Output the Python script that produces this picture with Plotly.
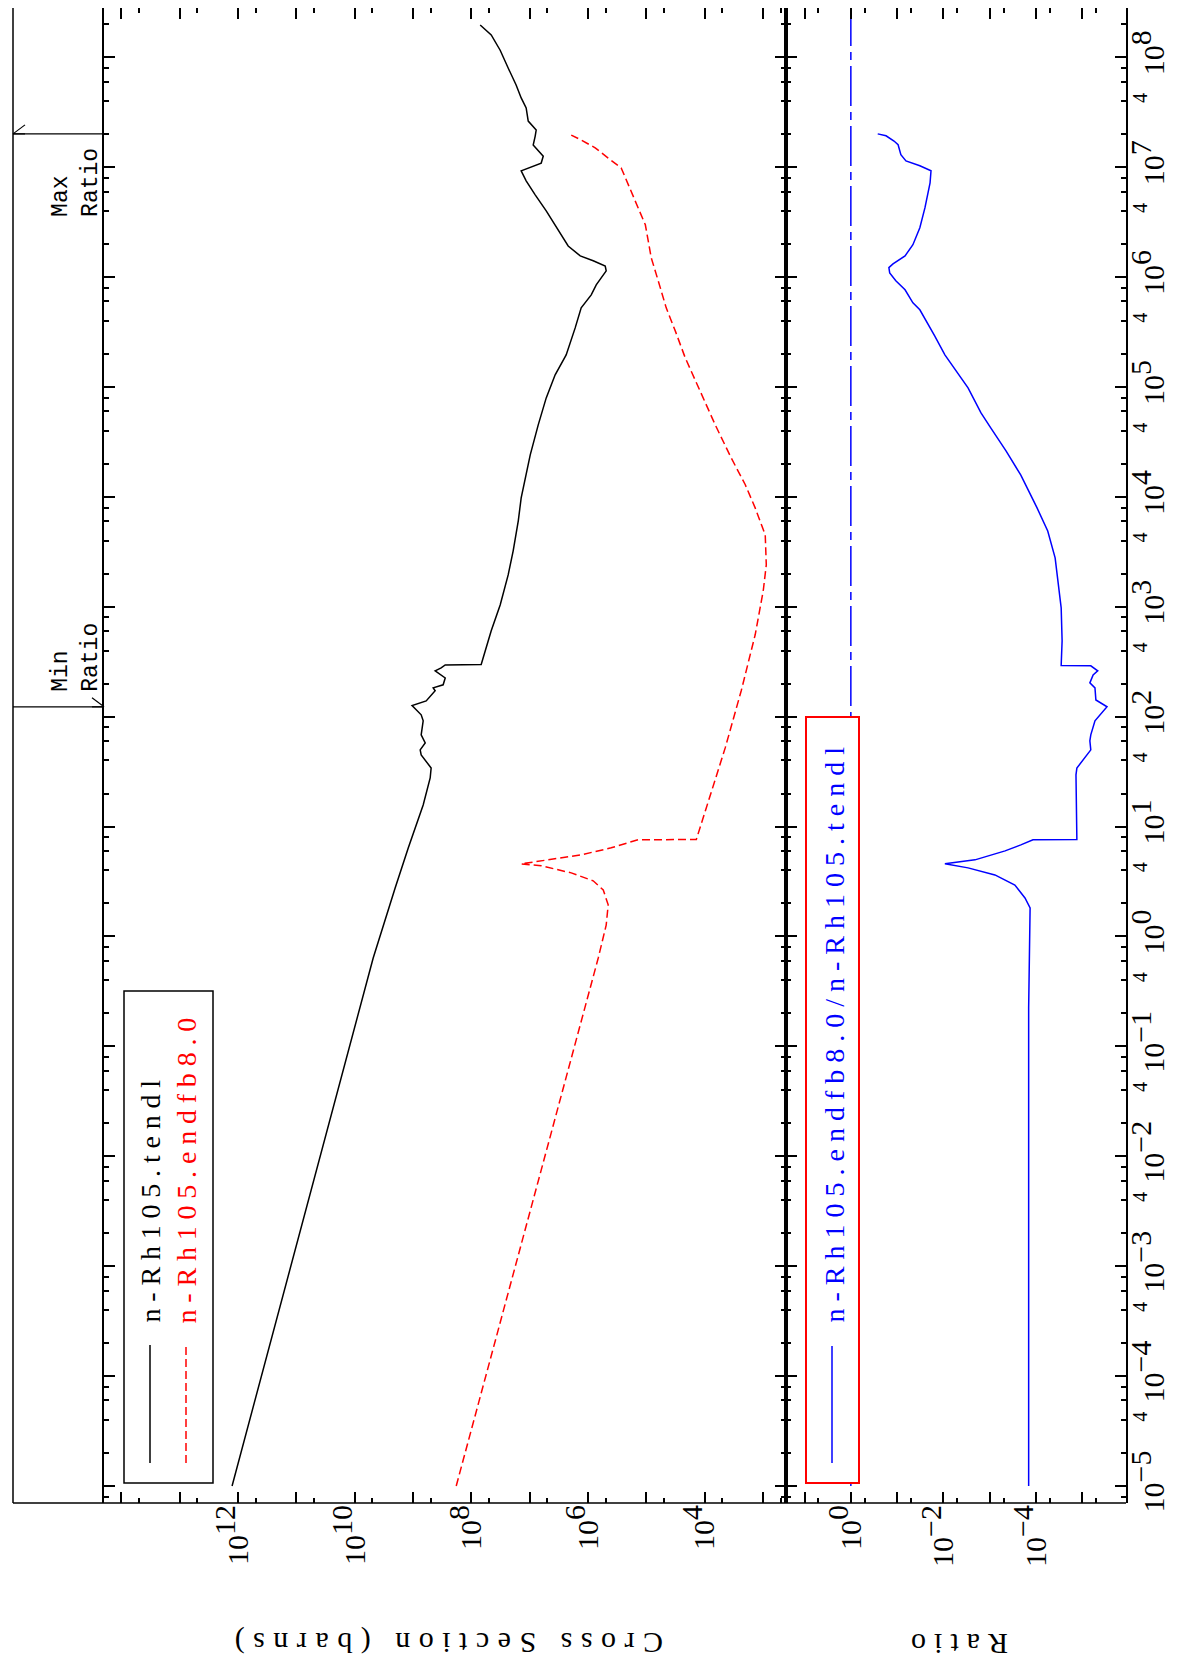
import math
import plotly.graph_objects as go

# ---------------- data ----------------
# n-Rh105.tendl : incident energy (eV) and cross section (barns)
tendl_energy = [1.0e-5, 0.637, 2.76, 6.38, 15.7, 27.7, 34.1, 44.9, 49.9, 57.8,
                68.4, 91.6, 104, 126, 139, 172, 183, 195, 225, 240,
                261, 278, 296, 299, 343, 604, 1040, 1950, 3230, 6050,
                9800, 1.49e4, 2.41e4, 4.52e4, 7.96e4, 1.29e5, 1.96e5, 3.45e5, 5.25e5, 6.89e5,
                8.49e5, 1.14e6, 1.26e6, 1.41e6, 1.56e6, 1.92e6, 2.99e6, 4.01e6, 5.60e6, 7.52e6,
                9.27e6, 1.09e7, 1.26e7, 1.41e7, 1.59e7, 1.92e7, 2.18e7, 2.63e7, 3.46e7, 4.27e7,
                5.60e7, 8.00e7, 1.16e8, 1.60e8, 1.97e8]
tendl_xs = [1.27e12, 4.83e9, 2.03e9, 1.21e9, 6.71e8, 5.09e8, 4.90e8, 7.26e8, 7.55e8, 6.19e8,
            7.26e8, 6.71e8, 7.26e8, 1.04e9, 5.96e8, 4.18e8, 4.52e8, 3.05e8, 2.81e8, 3.30e8,
            4.18e8, 3.30e8, 2.81e8, 6.79e7, 6.28e7, 4.57e7, 3.21e7, 2.34e7, 1.92e7, 1.57e7,
            1.40e7, 1.19e7, 9.79e6, 7.14e6, 5.21e6, 3.66e6, 2.37e6, 1.66e6, 1.31e6, 8.81e5,
            7.23e5, 4.88e5, 5.07e5, 8.15e5, 1.36e6, 2.19e6, 3.66e6, 5.21e6, 8.05e6, 1.15e7,
            1.40e7, 6.35e6, 5.86e6, 7.14e6, 8.71e6, 8.05e6, 7.74e6, 1.06e7, 1.15e7, 1.40e7,
            1.71e7, 2.34e7, 3.21e7, 4.57e7, 7.06e7]

# n-Rh105.endfb8.0
endfb_energy = [1.0e-5, 0.637, 1.27, 1.94, 2.65, 3.21, 3.79, 4.40, 4.58, 4.88,
                5.53, 6.41, 7.59, 7.62, 17.1, 52.0, 172, 556, 1400, 2410,
                4520, 7940, 1.29e4, 2.26e4, 4.52e4, 1.14e5, 1.84e5, 3.24e5, 5.25e5, 9.25e5,
                1.50e6, 2.99e6, 4.27e6, 6.90e6, 9.86e6, 1.21e7, 1.50e7, 1.77e7, 1.96e7]
endfb_xs = [1.82e8, 6.68e5, 4.88e5, 4.51e5, 5.48e5, 8.15e5, 1.94e6, 6.35e6, 1.40e7, 6.35e6,
            1.31e6, 4.00e5, 1.38e5, 1.39e4, 8.67e3, 4.44e3, 2.36e3, 1.36e3, 989, 877,
            914, 1.36e3, 2.01e3, 3.50e3, 6.58e3, 1.45e4, 2.15e4, 3.19e4, 4.56e4, 6.25e4,
            8.24e4, 1.04e5, 1.38e5, 2.05e5, 2.70e5, 4.51e5, 7.53e5, 1.31e6, 1.94e6]

# ratio n-Rh105.endfb8.0 / n-Rh105.tendl
ratio_energy = [1.0e-5, 0.223, 1.82, 2.24, 2.94, 3.63, 4.21, 4.58, 4.98, 6.01,
                6.82, 7.59, 7.62, 29.6, 34.1, 42.1, 49.9, 60.3, 68.4, 91.6,
                123, 142, 183, 203, 240, 261, 290, 292, 490, 977,
                1490, 2790, 4900, 7940, 1.58e4, 2.62e4, 4.24e4, 5.81e4, 9.82e4, 1.40e5,
                1.96e5, 2.92e5, 4.08e5, 5.04e5, 5.83e5, 7.66e5, 9.25e5, 1.09e6, 1.22e6, 1.32e6,
                1.56e6, 1.97e6, 2.81e6, 4.28e6, 7.21e6, 9.27e6, 1.03e7, 1.14e7, 1.30e7, 1.60e7,
                1.73e7, 1.93e7, 2.01e7]
ratio_value = [1.45e-4, 1.45e-4, 1.35e-4, 1.74e-4, 2.88e-4, 7.76e-4, 2.95e-3, 9.33e-3, 2.09e-3, 4.68e-4,
               2.14e-4, 1.17e-4, 1.32e-5, 1.38e-5, 1.32e-5, 8.91e-6, 6.61e-6, 6.92e-6, 6.61e-6, 5.37e-6,
               2.95e-6, 5.13e-6, 5.37e-6, 6.92e-6, 5.89e-6, 4.68e-6, 6.61e-6, 2.88e-5, 2.75e-5, 2.88e-5,
               3.24e-5, 3.89e-5, 5.62e-5, 9.55e-5, 2.14e-4, 4.47e-4, 9.55e-4, 1.55e-3, 2.95e-3, 5.37e-3,
               9.33e-3, 1.55e-2, 2.40e-2, 3.24e-2, 4.57e-2, 6.76e-2, 0.107, 0.145, 0.151, 0.123,
               6.76e-2, 4.57e-2, 3.24e-2, 2.51e-2, 1.95e-2, 1.86e-2, 3.24e-2, 6.46e-2, 8.32e-2, 9.55e-2,
               0.117, 0.174, 0.263]

# unity reference line in the ratio panel
unity_ratio = [1.0, 1.0]
unity_energy = [1.0e-5, 3.0e8]

tendl_name = "n-Rh105.tendl"
endfb_name = "n-Rh105.endfb8.0"
ratio_name = "n-Rh105.endfb8.0/n-Rh105.tendl"
xs_title = "Cross Section (barns)"
ratio_title = "Ratio"

xs_label_exps = [12, 10, 8, 6, 4]
xs_plain_exps = [13, 11, 9, 7, 5, 3, 14]
ratio_label_exps = [0, -2, -4]
ratio_plain_exps = [1, -1, -3, -5]
energy_label_exps = list(range(-5, 9))

# ---------------- layout helpers ----------------
W, H = 1185, 1661


def PX(x):
    return x / W


def PY(y):
    return 1 - y / H


E_RANGE = [-5.155, 8.4486]
XS_RANGE = [14.30, 2.605]
RATIO_RANGE = [1.40, -5.94]

SERIF = "Liberation Serif"
MONO = "Liberation Mono"


def pow_label(k, size=30):
    s = str(k).replace("-", "\u2212")
    return f"10<sup><span style='font-size:{size}px'>{s}</span></sup>"


def spaced(text, sp):
    return f"<span style='letter-spacing:{sp}px'>{text}</span>"


tick_font = dict(family=SERIF, size=30, color="black")
common = dict(showgrid=False, zeroline=False, ticks="inside", tickcolor="black", tickwidth=1.5)
overlay_common = dict(showgrid=False, zeroline=False, showline=False, ticks="inside",
                      tickcolor="black", tickwidth=1.5, ticklen=11, showticklabels=False,
                      mirror="ticks", type="log", tickmode="array")

fig = go.Figure()
fig.add_trace(go.Scatter(x=tendl_xs, y=tendl_energy, xaxis="x", yaxis="y", mode="lines",
                         line=dict(color="black", width=1.5), name=tendl_name, showlegend=False))
fig.add_trace(go.Scatter(x=endfb_xs, y=endfb_energy, xaxis="x", yaxis="y", mode="lines",
                         line=dict(color="red", width=1.5, dash="8px,4px"), name=endfb_name,
                         showlegend=False))
fig.add_trace(go.Scatter(x=unity_ratio, y=unity_energy, xaxis="x2", yaxis="y2", mode="lines",
                         line=dict(color="blue", width=1.5, dash="40px,6px,8px,6px"),
                         showlegend=False, hoverinfo="skip"))
fig.add_trace(go.Scatter(x=ratio_value, y=ratio_energy, xaxis="x2", yaxis="y2", mode="lines",
                         line=dict(color="blue", width=1.5), name=ratio_name, showlegend=False))
# empty traces so that the overlay (tick-only) axes get drawn
fig.add_trace(go.Scatter(x=[], y=[], xaxis="x2", yaxis="y3", showlegend=False))
fig.add_trace(go.Scatter(x=[], y=[], xaxis="x3", yaxis="y", showlegend=False))
fig.add_trace(go.Scatter(x=[], y=[], xaxis="x4", yaxis="y2", showlegend=False))

e_ticks = [10.0 ** k for k in energy_label_exps]
e_text = [pow_label(k) for k in energy_label_exps]
e_minor = [m * 10.0 ** k for k in range(-6, 9) for m in (2, 4, 6, 8)]
four_ticks = [4 * 10.0 ** k for k in range(-5, 8)]

fig.update_layout(
    width=W, height=H, template="none",
    paper_bgcolor="white", plot_bgcolor="white",
    margin=dict(l=0, r=0, t=0, b=0, pad=0),
    showlegend=False,
    xaxis=dict(**common, showline=False, type="log", domain=[PX(96), PX(778)], range=XS_RANGE,
               anchor="y", mirror="ticks", ticklen=11, tickmode="array",
               tickvals=[10.0 ** k for k in xs_label_exps],
               ticktext=[pow_label(k) for k in xs_label_exps],
               tickangle=-90, tickfont=tick_font, ticklabelstandoff=-5,
               minor=dict(tickmode="array", tickvals=[5 * 10.0 ** k for k in range(2, 14)],
                          ticklen=5, ticks="inside", tickcolor="black", tickwidth=1.5)),
    xaxis3=dict(**overlay_common, range=XS_RANGE, overlaying="x", anchor="y", side="bottom",
                tickvals=[10.0 ** k for k in xs_plain_exps]),
    xaxis2=dict(**common, showline=False, type="log", domain=[PX(778), PX(1118)],
                range=RATIO_RANGE, anchor="y2", mirror="ticks", ticklen=11, tickmode="array",
                tickvals=[10.0 ** k for k in ratio_label_exps],
                ticktext=[pow_label(k) for k in ratio_label_exps],
                tickangle=-90, tickfont=tick_font, ticklabelstandoff=-5,
                minor=dict(tickmode="array", tickvals=[5 * 10.0 ** k for k in range(-6, 1)],
                           ticklen=5, ticks="inside", tickcolor="black", tickwidth=1.5)),
    xaxis4=dict(**overlay_common, range=RATIO_RANGE, overlaying="x2", anchor="y2", side="bottom",
                tickvals=[10.0 ** k for k in ratio_plain_exps]),
    yaxis=dict(**common, showline=True, linecolor="black", linewidth=1.5, type="log",
               domain=[PY(1495), 1.0], range=E_RANGE, anchor="x",
               side="left", mirror="ticks", ticklen=11, tickmode="array", tickvals=e_ticks,
               showticklabels=False,
               minor=dict(tickmode="array", tickvals=e_minor, ticklen=5, ticks="inside",
                          tickcolor="black", tickwidth=1.5)),
    yaxis2=dict(**common, showline=True, linecolor="black", linewidth=1.5, type="log",
                domain=[PY(1495), 1.0], range=E_RANGE, anchor="x2",
                side="right", mirror="ticks", ticklen=11, tickmode="array", tickvals=e_ticks,
                ticktext=e_text, tickangle=-90, tickfont=tick_font,
                minor=dict(tickmode="array", tickvals=e_minor, ticklen=5, ticks="inside",
                           tickcolor="black", tickwidth=1.5)),
    yaxis3=dict(type="log", range=E_RANGE, overlaying="y2", anchor="x2", side="right",
                showgrid=False, zeroline=False, showline=False, ticks="inside", ticklen=5,
                tickcolor="black", tickwidth=1.5, tickmode="array", tickvals=four_ticks,
                ticktext=["4"] * len(four_ticks), tickangle=-90,
                tickfont=dict(family=SERIF, size=20, color="black")),
)

shapes = []
annotations = []

# bottom frame line (runs under both panels and the left annotation band)
shapes.append(dict(type="line", xref="paper", yref="paper", x0=PX(5), x1=PX(1118), y0=PY(1495),
                   y1=PY(1495), line=dict(color="black", width=1.5)))
# left edge of the annotation band
shapes.append(dict(type="line", xref="paper", yref="paper", x0=PX(5), x1=PX(5), y0=PY(1495), y1=1.0,
                   line=dict(color="black", width=1.5)))

# max / min ratio markers
i_max = ratio_value.index(max(ratio_value))
i_min = ratio_value.index(min(ratio_value))
e_max = ratio_energy[i_max]
e_min = ratio_energy[i_min]
for ey in (e_max, e_min):
    shapes.append(dict(type="line", xref="paper", yref="y", x0=PX(5), x1=PX(96), y0=ey, y1=ey,
                       line=dict(color="black", width=1.2)))
for dy in (9, -9):
    shapes.append(dict(type="line", xref="paper", xsizemode="pixel", xanchor=PX(5), x0=0, x1=12,
                       yref="y", ysizemode="pixel", yanchor=e_max, y0=0, y1=dy,
                       line=dict(color="black", width=1.2)))
    shapes.append(dict(type="line", xref="paper", xsizemode="pixel", xanchor=PX(96), x0=0, x1=-12,
                       yref="y", ysizemode="pixel", yanchor=e_min, y0=0, y1=dy,
                       line=dict(color="black", width=1.2)))
annotations.append(dict(text="Max<br>Ratio", xref="paper", yref="y", x=PX(68),
                        y=math.log10(e_max), yshift=-49,
                        textangle=-90, showarrow=False, align="left", xanchor="center",
                        yanchor="middle", font=dict(family=MONO, size=23, color="black")))
annotations.append(dict(text="Min<br>Ratio", xref="paper", yref="y", x=PX(68),
                        y=math.log10(e_min), yshift=49,
                        textangle=-90, showarrow=False, align="left", xanchor="center",
                        yanchor="middle", font=dict(family=MONO, size=23, color="black")))

# legend of the cross-section panel
shapes.append(dict(type="rect", xref="paper", yref="paper", x0=PX(116), x1=PX(205), y0=PY(1475),
                   y1=PY(983), line=dict(color="black", width=1.5), fillcolor="white", layer="above"))
shapes.append(dict(type="line", xref="paper", yref="paper", x0=PX(142), x1=PX(142), y0=PY(1455),
                   y1=PY(1337), line=dict(color="black", width=1.5), layer="above"))
shapes.append(dict(type="line", xref="paper", yref="paper", x0=PX(178), x1=PX(178), y0=PY(1455),
                   y1=PY(1337), line=dict(color="red", width=1.5, dash="8px,4px"), layer="above"))
annotations.append(dict(text=spaced(tendl_name, 6.8), xref="paper", yref="paper", x=PX(142),
                        y=PY(1317), xanchor="center", yanchor="bottom", textangle=-90,
                        showarrow=False, font=dict(family=SERIF, size=28, color="black")))
annotations.append(dict(text=spaced(endfb_name, 6.8), xref="paper", yref="paper", x=PX(178),
                        y=PY(1317), xanchor="center", yanchor="bottom", textangle=-90,
                        showarrow=False, font=dict(family=SERIF, size=28, color="red")))

# legend of the ratio panel
shapes.append(dict(type="rect", xref="paper", yref="paper", x0=PX(798), x1=PX(851), y0=PY(1475),
                   y1=PY(709), line=dict(color="red", width=2), fillcolor="white", layer="above"))
shapes.append(dict(type="line", xref="paper", yref="paper", x0=PX(824), x1=PX(824), y0=PY(1455),
                   y1=PY(1338), line=dict(color="blue", width=1.5), layer="above"))
annotations.append(dict(text=spaced(ratio_name, 7.0), xref="paper", yref="paper", x=PX(826),
                        y=PY(1317), xanchor="center", yanchor="bottom", textangle=-90,
                        showarrow=False, font=dict(family=SERIF, size=28, color="blue")))

# axis titles (upside down, as in the reference)
annotations.append(dict(text=spaced(xs_title, 8.5), xref="paper", yref="paper", x=PX(437),
                        y=PY(1635), xanchor="center", yanchor="middle", textangle=180,
                        showarrow=False, font=dict(family=SERIF, size=30, color="black")))
annotations.append(dict(text=spaced(ratio_title, 8.0), xref="paper", yref="paper", x=PX(948),
                        y=PY(1637), xanchor="center", yanchor="middle", textangle=180,
                        showarrow=False, font=dict(family=SERIF, size=30, color="black")))

fig.update_layout(shapes=shapes, annotations=annotations)
fig.write_html("out.html")
